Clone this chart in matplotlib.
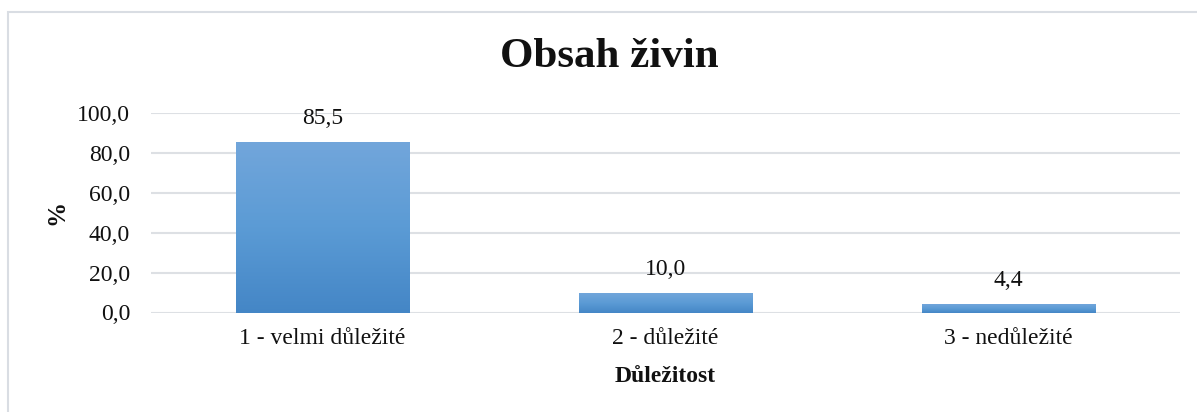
import matplotlib
matplotlib.use("Agg")
import matplotlib.pyplot as plt
import numpy as np
from matplotlib.colors import LinearSegmentedColormap
from matplotlib.patches import Rectangle

plt.rcParams['font.family'] = ['Liberation Serif', 'DejaVu Serif']

title = "Obsah živin"
categories = ["1 - velmi důležité", "2 - důležité", "3 - nedůležité"]
values = [85.5, 10.0, 4.4]
value_labels = ["85,5", "10,0", "4,4"]
yticks = [0, 20, 40, 60, 80, 100]
ytick_labels = ["0,0", "20,0", "40,0", "60,0", "80,0", "100,0"]
xlabel = "Důležitost"
ylabel = "%"

W, H = 1197, 412
fig = plt.figure(figsize=(W / 100, H / 100), dpi=100)
fig.patch.set_facecolor('white')

# outer chart border
fig.patches.append(Rectangle((8 / W, -0.05), 1.2, 1 - 12 / H + 0.05,
                             transform=fig.transFigure, fill=False,
                             edgecolor='#D9DDE3', linewidth=1.5, zorder=0))

ax = fig.add_axes([151 / W, 1 - 312.5 / H, (1180 - 151) / W, (312.5 - 113) / H])
ax.set_facecolor('none')

x = np.arange(len(categories))
bw = 0.505
bars = ax.bar(x, values, width=bw, color='none', edgecolor='none', zorder=3)

cmap = LinearSegmentedColormap.from_list('g', ['#4486C6', '#5B9BD5', '#72A6DB'])
grad = np.linspace(0, 1, 256).reshape(-1, 1)
for b in bars:
    x0, y0 = b.get_x(), b.get_y()
    w, h = b.get_width(), b.get_height()
    im = ax.imshow(grad, cmap=cmap, origin='lower', aspect='auto',
                   extent=[x0, x0 + w, y0, y0 + h], zorder=3)
    im.set_clip_path(b)

for xi, v, lab in zip(x, values, value_labels):
    ax.annotate(lab, (xi, v), xytext=(0, 9), textcoords='offset points',
                ha='center', va='bottom', fontsize=17, color='#111111')

ax.set_xlim(-0.5, len(categories) - 0.5)
ax.set_ylim(0, 100)
ax.set_yticks(yticks)
ax.set_yticklabels(ytick_labels, fontsize=17, color='#111111')
ax.set_xticks(x)
ax.set_xticklabels(categories, fontsize=17, color='#111111')
ax.tick_params(axis='both', length=0)
ax.tick_params(axis='y', pad=15)
ax.tick_params(axis='x', pad=11)

ax.grid(axis='y', color='#DDE0E4', linewidth=1.5, zorder=0)
ax.set_axisbelow(True)
for s in ax.spines.values():
    s.set_visible(False)

ax.set_xlabel(xlabel, fontsize=17, fontweight='bold', color='#111111')
ax.xaxis.set_label_coords(0.5, (312.5 - 377) / 199.5)
ax.xaxis.label.set_verticalalignment('center')
ax.set_ylabel(ylabel, fontsize=18, fontweight='bold', color='#111111')
ax.yaxis.set_label_coords((57 - 151) / 1029, 0.504)
ax.yaxis.label.set_verticalalignment('center')

fig.text(609 / W, 1 - 57 / H, title, ha='center', va='center',
         fontsize=31, fontweight='bold', color='#111111')

fig.savefig('out.png', dpi=100)
